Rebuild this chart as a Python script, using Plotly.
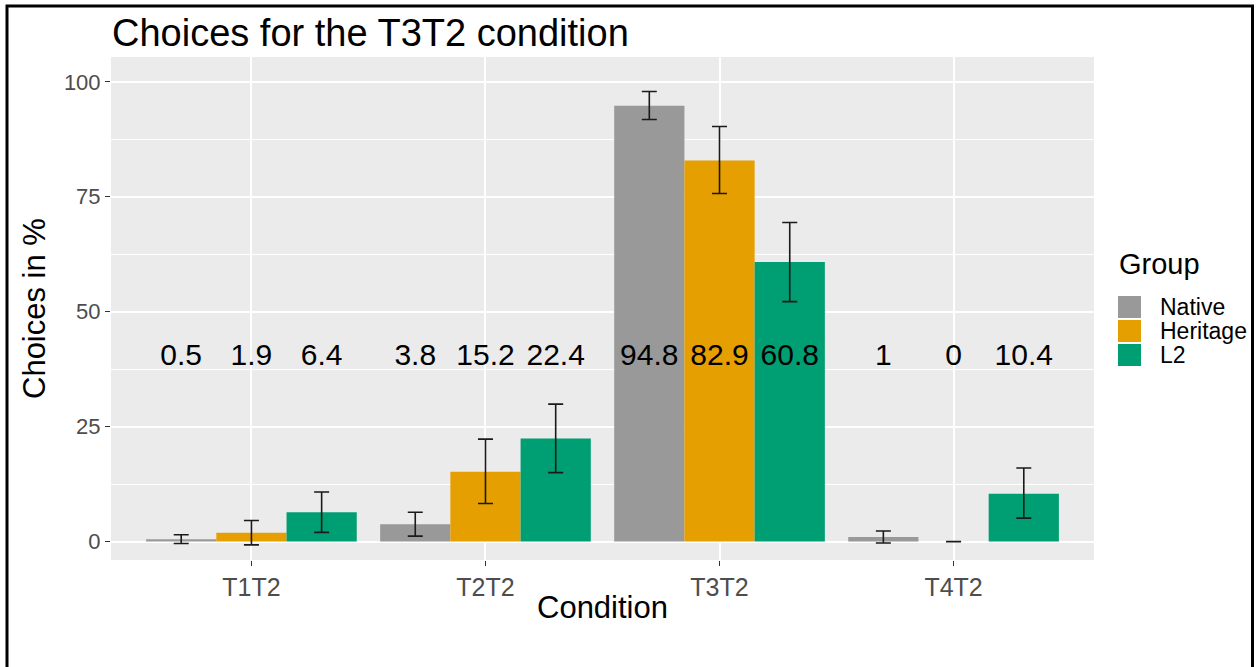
import plotly.graph_objects as go

# Data: share of choices (%) per condition and group, with error bar extents
conditions = ["T1T2", "T2T2", "T3T2", "T4T2"]
groups = ["Native", "Heritage", "L2"]
colors = ["#999999", "#E69F00", "#009E73"]

native = [0.5, 3.8, 94.8, 1.0]
heritage = [1.9, 15.2, 82.9, 0.0]
l2 = [6.4, 22.4, 60.8, 10.4]

native_err_up = [1.0, 2.6, 3.1, 1.3]
native_err_down = [0.9, 2.6, 3.0, 1.3]
heritage_err_up = [2.7, 7.1, 7.4, 0.0]
heritage_err_down = [2.6, 6.9, 7.2, 0.0]
l2_err_up = [4.4, 7.5, 8.6, 5.6]
l2_err_down = [4.4, 7.4, 8.6, 5.3]

values = [native, heritage, l2]
err_up = [native_err_up, heritage_err_up, l2_err_up]
err_down = [native_err_down, heritage_err_down, l2_err_down]

y_ticks = [0, 25, 50, 75, 100]
label_y = 40

FONT = "Liberation Sans, Arial, sans-serif"
W, H = 1259, 667
ML, MR, MT, MB = 111, 165, 57, 107
PW, PH = W - ML - MR, H - MT - MB

def px_x(p):
    return (p - ML) / PW

def px_y(p):
    return (H - MB - p) / PH

bar_w = 0.3
fig = go.Figure()
for g, name in enumerate(groups):
    xs = [i + (g - 1) * bar_w for i in range(len(conditions))]
    fig.add_trace(go.Bar(
        x=xs, y=values[g], width=bar_w, name=name,
        marker=dict(color=colors[g], line=dict(width=0)),
        error_y=dict(type="data", symmetric=False, array=err_up[g],
                     arrayminus=err_down[g], color="#1a1a1a",
                     thickness=1.6, width=7.5),
        showlegend=False,
    ))
    fig.add_trace(go.Scatter(
        x=xs, y=[label_y] * len(xs), mode="text",
        text=[f"{v:g}" for v in values[g]],
        textfont=dict(family=FONT, size=30, color="black"),
        showlegend=False, hoverinfo="skip",
    ))

fig.update_layout(
    width=W, height=H,
    margin=dict(l=ML, r=MR, t=MT, b=MB),
    paper_bgcolor="white", plot_bgcolor="#EBEBEB",
    barmode="overlay",
    font=dict(family=FONT),
)
fig.update_xaxes(
    range=[-0.6, 3.6], tickvals=list(range(len(conditions))), ticktext=conditions,
    showgrid=True, gridcolor="white", gridwidth=1.6, zeroline=False,
    ticks="outside", ticklen=5, tickwidth=1.4, tickcolor="#333333",
    tickfont=dict(family=FONT, size=25, color="#4D4D4D"),
)
fig.update_yaxes(
    range=[-4, 105.4], tickvals=y_ticks,
    showgrid=True, gridcolor="white", gridwidth=1.6, zeroline=False,
    ticks="outside", ticklen=5, tickwidth=1.4, tickcolor="#333333",
    tickfont=dict(family=FONT, size=22, color="#4D4D4D"),
    minor=dict(tickvals=[12.5, 37.5, 62.5, 87.5], showgrid=True,
               gridcolor="white", gridwidth=0.7, ticks=""),
)

def note(text, x, y, size, xanchor="left", angle=0):
    return dict(text=text, xref="paper", yref="paper", x=px_x(x), y=px_y(y),
                xanchor=xanchor, yanchor="middle", showarrow=False,
                textangle=angle, font=dict(family=FONT, size=size, color="black"))

annotations = [
    note("Choices for the T3T2 condition", 110, 33, 38),
    note("Choices in %", 34, 309, 31, xanchor="center", angle=-90),
    note("Condition", 602, 607, 31, xanchor="center"),
    note("Group", 1117, 264, 29),
]
shapes = []
for g, name in enumerate(groups):
    top = 296 + g * 24
    shapes.append(dict(type="rect", xref="paper", yref="paper",
                       x0=px_x(1118), x1=px_x(1141), y0=px_y(top), y1=px_y(top + 22),
                       fillcolor=colors[g], line=dict(width=0)))
    annotations.append(note(name, 1158, top + 11, 23))

# page frame around the figure
shapes.append(dict(type="rect", xref="paper", yref="paper",
                   x0=px_x(7), x1=px_x(1252.5), y0=px_y(720), y1=px_y(6),
                   line=dict(color="black", width=3), fillcolor="rgba(0,0,0,0)"))

fig.update_layout(annotations=annotations, shapes=shapes)
fig.write_html("out.html")
